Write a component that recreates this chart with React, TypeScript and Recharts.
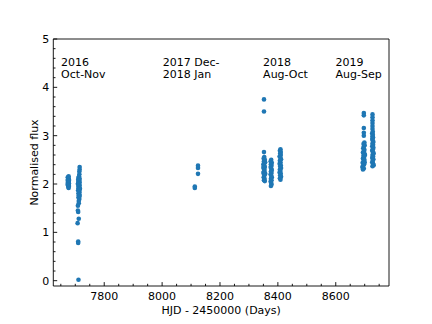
import React from 'react';
import { ScatterChart, Scatter, XAxis, YAxis, ReferenceDot } from 'recharts';

// Observing seasons: [HJD - 2450000, normalised flux]
const season2016: [number, number][] = [
  [7674, 2.14], [7677, 2.12], [7675, 2.10], [7678, 2.09], [7674, 2.07], [7677, 2.05],
  [7676, 2.04], [7674, 2.02], [7678, 2.01], [7677, 1.99], [7675, 1.97], [7678, 1.96],
  [7676, 1.94], [7677, 1.92], [7674, 1.99], [7678, 2.07], [7677, 2.16],
  [7715, 2.35], [7715, 2.30], [7714, 2.26], [7714, 2.20], [7713, 2.16], [7711, 2.13],
  [7715, 2.11], [7710, 2.09], [7714, 2.07], [7711, 2.05], [7715, 2.03], [7710, 2.01],
  [7713, 1.99], [7715, 1.97], [7711, 1.95], [7714, 1.93], [7711, 1.91], [7715, 1.89],
  [7710, 1.87], [7713, 1.85], [7714, 1.83], [7711, 1.81], [7714, 1.79], [7712, 1.77],
  [7715, 1.75], [7711, 1.72], [7714, 1.69], [7712, 1.65], [7712, 1.60], [7709, 1.55],
  [7709, 1.45], [7710, 1.42], [7712, 1.28], [7708, 1.19], [7710, 0.81], [7710, 0.78],
  [7711, 0.02], [7709, 2.00], [7716, 1.90],
];

const season2017: [number, number][] = [
  [8113, 1.92], [8113, 1.95], [8124, 2.21], [8124, 2.33], [8124, 2.38],
];

const season2018: [number, number][] = [
  [8352, 3.75], [8352, 3.50], [8352, 2.66],
  [8353, 2.56], [8351, 2.53], [8355, 2.50], [8352, 2.47], [8354, 2.44], [8350, 2.41],
  [8353, 2.38], [8355, 2.35], [8351, 2.32], [8354, 2.29], [8352, 2.26], [8350, 2.23],
  [8355, 2.20], [8353, 2.17], [8351, 2.14], [8354, 2.11], [8352, 2.08], [8355, 2.06],
  [8356, 2.22], [8350, 2.35], [8356, 2.45],
  [8377, 2.50], [8375, 2.47], [8379, 2.44], [8376, 2.41], [8378, 2.38], [8375, 2.35],
  [8377, 2.32], [8379, 2.29], [8376, 2.26], [8378, 2.23], [8375, 2.20], [8377, 2.17],
  [8379, 2.14], [8376, 2.11], [8378, 2.08], [8375, 2.05], [8377, 2.02], [8378, 1.99],
  [8376, 1.96],
  [8409, 2.72], [8407, 2.69], [8410, 2.66], [8408, 2.63], [8410, 2.60], [8406, 2.57],
  [8409, 2.54], [8411, 2.51], [8407, 2.48], [8409, 2.45], [8406, 2.42], [8410, 2.39],
  [8408, 2.36], [8411, 2.33], [8407, 2.30], [8409, 2.27], [8406, 2.24], [8410, 2.21],
  [8408, 2.18], [8411, 2.15], [8407, 2.12], [8409, 2.09],
];

const season2019: [number, number][] = [
  [8697, 3.47], [8697, 3.42], [8697, 3.16], [8697, 3.06], [8697, 3.00],
  [8699, 2.86], [8696, 2.83], [8700, 2.80], [8697, 2.77], [8695, 2.74], [8699, 2.71],
  [8697, 2.68], [8694, 2.65], [8700, 2.62], [8696, 2.59], [8698, 2.56], [8694, 2.53],
  [8699, 2.50], [8696, 2.47], [8693, 2.44], [8698, 2.41], [8695, 2.38], [8692, 2.35],
  [8697, 2.32], [8694, 2.30], [8700, 2.45], [8701, 2.60],
  [8727, 3.44], [8727, 3.38], [8727, 3.32], [8727, 3.26], [8727, 3.20], [8727, 3.14],
  [8728, 3.08], [8726, 3.05], [8728, 3.02], [8727, 2.99], [8729, 2.96], [8726, 2.93],
  [8728, 2.90], [8730, 2.87], [8727, 2.84], [8729, 2.81], [8726, 2.78], [8730, 2.75],
  [8728, 2.72], [8726, 2.69], [8729, 2.66], [8731, 2.63], [8727, 2.60], [8729, 2.57],
  [8726, 2.54], [8730, 2.51], [8728, 2.48], [8726, 2.45], [8729, 2.42], [8731, 2.39],
  [8727, 2.37],
];

const seasons = [season2016, season2017, season2018, season2019];

const seasonLabels = [
  { x: 7651, y: 4.45, line1: '2016', line2: 'Oct-Nov' },
  { x: 8002, y: 4.45, line1: '2017 Dec-', line2: '2018 Jan' },
  { x: 8349, y: 4.45, line1: '2018', line2: 'Aug-Oct' },
  { x: 8599, y: 4.45, line1: '2019', line2: 'Aug-Sep' },
];

const xDomain: [number, number] = [7624, 8784];
const yDomain: [number, number] = [-0.11, 5];
const xMajorTicks = [7800, 8000, 8200, 8400, 8600];
const yMajorTicks = [0, 1, 2, 3, 4, 5];
const xLabel = 'HJD - 2450000 (Days)';
const yLabel = 'Normalised flux';

const FONT = 'DejaVu Sans';
const BLUE = '#1f77b4';
const MAJ = 3.9;
const MIN = 2.2;
const LW = 0.9;

const xTicks: number[] = [];
for (let v = 7650; v <= 8750; v += 50) xTicks.push(v);
const yTicks: number[] = [];
for (let i = 0; i <= 25; i++) yTicks.push(Math.round(i * 2) / 10);

const isXMajor = (v: number) => xMajorTicks.includes(v);
const isYMajor = (v: number) => yMajorTicks.includes(v);

const BottomTick = (p: any) => {
  const v = p.payload.value;
  const major = isXMajor(v);
  return (
    <g>
      <line x1={p.x} y1={p.y} x2={p.x} y2={p.y - (major ? MAJ : MIN)} stroke="#000" strokeWidth={LW} />
      {major && (
        <text x={p.x} y={p.y + 13.5} textAnchor="middle" fontSize={11} fontFamily={FONT} fill="#000">
          {v}
        </text>
      )}
    </g>
  );
};

const TopTick = (p: any) => {
  const v = p.payload.value;
  const major = isXMajor(v);
  return <line x1={p.x} y1={p.y} x2={p.x} y2={p.y + (major ? MAJ : MIN)} stroke="#000" strokeWidth={LW} />;
};

const LeftTick = (p: any) => {
  const v = p.payload.value;
  const major = isYMajor(v);
  return (
    <g>
      <line x1={p.x} y1={p.y} x2={p.x + (major ? MAJ : MIN)} y2={p.y} stroke="#000" strokeWidth={LW} />
      {major && (
        <text x={p.x - 4} y={p.y + 4} textAnchor="end" fontSize={11} fontFamily={FONT} fill="#000">
          {v}
        </text>
      )}
    </g>
  );
};

const RightTick = (p: any) => {
  const v = p.payload.value;
  const major = isYMajor(v);
  return <line x1={p.x} y1={p.y} x2={p.x - (major ? MAJ : MIN)} y2={p.y} stroke="#000" strokeWidth={LW} />;
};

const XTitle = (p: any) => {
  const vb = p.viewBox;
  return (
    <text x={vb.x + vb.width / 2} y={vb.y + 28} textAnchor="middle" fontSize={11} fontFamily={FONT} fill="#000">
      {xLabel}
    </text>
  );
};

const YTitle = (p: any) => {
  const vb = p.viewBox;
  const cx = vb.x + 37.7;
  const cy = vb.y + vb.height / 2;
  return (
    <text x={cx} y={cy} transform={`rotate(-90, ${cx}, ${cy})`} textAnchor="middle" fontSize={11} fontFamily={FONT} fill="#000">
      {yLabel}
    </text>
  );
};

const dot = (p: any) => <circle cx={p.cx} cy={p.cy} r={2.3} fill={BLUE} />;

export default function App() {
  return (
    <div style={{ position: 'absolute', left: 0, top: 0, width: 432, height: 324, background: '#fff' }}>
      <ScatterChart width={432} height={324} margin={{ top: 38, right: 42, bottom: 0, left: 0 }}>
        <XAxis
          xAxisId={0}
          dataKey="x"
          type="number"
          domain={xDomain}
          ticks={xTicks}
          interval={0}
          tickSize={0}
          tickMargin={0}
          tick={BottomTick}
          height={38}
          axisLine={{ stroke: '#000', strokeWidth: LW }}
          label={{ content: XTitle }}
        />
        <XAxis
          xAxisId="top"
          orientation="top"
          type="number"
          domain={xDomain}
          ticks={xTicks}
          interval={0}
          tickSize={0}
          tickMargin={0}
          tick={TopTick}
          height={1}
          axisLine={{ stroke: '#000', strokeWidth: LW }}
        />
        <YAxis
          yAxisId={0}
          dataKey="y"
          type="number"
          domain={yDomain}
          ticks={yTicks}
          interval={0}
          tickSize={0}
          tickMargin={0}
          tick={LeftTick}
          width={53.3}
          axisLine={{ stroke: '#000', strokeWidth: LW }}
          label={{ content: YTitle }}
        />
        <YAxis
          yAxisId="right"
          orientation="right"
          type="number"
          domain={yDomain}
          ticks={yTicks}
          interval={0}
          tickSize={0}
          tickMargin={0}
          tick={RightTick}
          width={1}
          axisLine={{ stroke: '#000', strokeWidth: LW }}
        />
        {seasons.map((s, i) => (
          <Scatter
            key={i}
            xAxisId={0}
            yAxisId={0}
            data={s.map(([x, y]) => ({ x, y }))}
            shape={dot}
            isAnimationActive={false}
          />
        ))}
        {seasonLabels.map((l, i) => (
          <ReferenceDot
            key={'l' + i}
            xAxisId={0}
            yAxisId={0}
            x={l.x}
            y={l.y}
            r={0}
            shape={(p: any) => (
              <text x={p.cx} y={p.cy} fontSize={11} fontFamily={FONT} fill="#000">
                <tspan x={p.cx}>{l.line1}</tspan>
                <tspan x={p.cx} dy={12.3}>{l.line2}</tspan>
              </text>
            )}
          />
        ))}
      </ScatterChart>
    </div>
  );
}
